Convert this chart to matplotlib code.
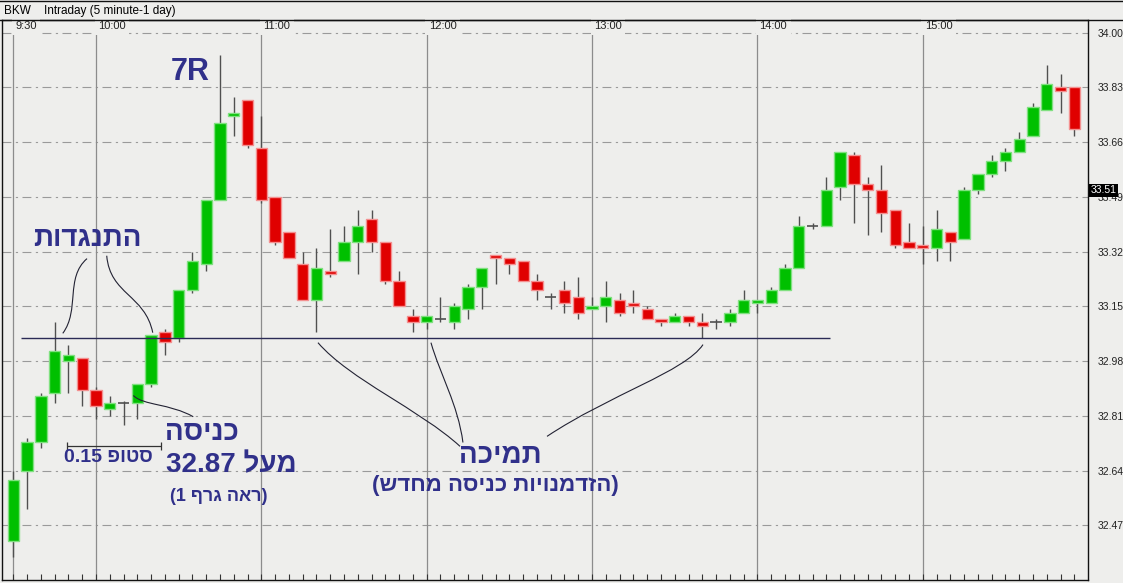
import re
import numpy as np
import matplotlib
matplotlib.use('Agg')
import matplotlib.pyplot as plt
import matplotlib.transforms as mtransforms
from matplotlib.patches import Rectangle, PathPatch
from matplotlib.path import Path
from matplotlib.lines import Line2D

# BKW, 5 minute bars from 9:30 to 15:55
opens = [32.42, 32.64, 32.73, 32.88, 32.98, 32.99, 32.89, 32.83, 32.85, 32.85,
         32.91, 33.07, 33.05, 33.20, 33.28, 33.48, 33.74, 33.79, 33.64, 33.49,
         33.38, 33.28, 33.17, 33.26, 33.29, 33.35, 33.42, 33.35, 33.23, 33.12,
         33.10, 33.11, 33.10, 33.14, 33.21, 33.31, 33.30, 33.29, 33.23, 33.18,
         33.20, 33.18, 33.14, 33.15, 33.17, 33.16, 33.14, 33.11, 33.10, 33.12,
         33.10, 33.10, 33.10, 33.13, 33.16, 33.16, 33.20, 33.27, 33.40, 33.40,
         33.52, 33.62, 33.53, 33.51, 33.45, 33.35, 33.34, 33.33, 33.38, 33.36,
         33.51, 33.56, 33.60, 33.63, 33.68, 33.76, 33.83, 33.83]
highs = [32.64, 32.74, 32.88, 33.10, 33.03, 32.99, 32.90, 32.87, 32.855, 32.91,
         33.06, 33.08, 33.20, 33.32, 33.48, 33.93, 33.80, 33.79, 33.74, 33.49,
         33.38, 33.32, 33.33, 33.39, 33.40, 33.45, 33.45, 33.35, 33.26, 33.14,
         33.12, 33.18, 33.16, 33.22, 33.27, 33.31, 33.30, 33.29, 33.25, 33.19,
         33.23, 33.24, 33.18, 33.23, 33.19, 33.20, 33.15, 33.11, 33.13, 33.12,
         33.13, 33.11, 33.14, 33.20, 33.17, 33.21, 33.28, 33.43, 33.41, 33.55,
         33.63, 33.63, 33.55, 33.59, 33.45, 33.41, 33.40, 33.45, 33.38, 33.52,
         33.56, 33.62, 33.64, 33.69, 33.78, 33.90, 33.87, 33.83]
lows = [32.37, 32.52, 32.71, 32.85, 32.88, 32.84, 32.80, 32.81, 32.78, 32.80,
        32.90, 33.00, 33.04, 33.19, 33.26, 33.48, 33.68, 33.64, 33.47, 33.34,
        33.30, 33.17, 33.07, 33.24, 33.29, 33.25, 33.32, 33.22, 33.15, 33.07,
        33.08, 33.10, 33.08, 33.11, 33.14, 33.22, 33.25, 33.23, 33.17, 33.14,
        33.13, 33.11, 33.14, 33.10, 33.12, 33.13, 33.11, 33.09, 33.10, 33.09,
        33.05, 33.08, 33.09, 33.13, 33.13, 33.16, 33.20, 33.27, 33.39, 33.40,
        33.48, 33.41, 33.37, 33.38, 33.33, 33.33, 33.28, 33.29, 33.29, 33.36,
        33.50, 33.55, 33.57, 33.63, 33.68, 33.76, 33.75, 33.68]
closes = [32.61, 32.73, 32.87, 33.01, 33.00, 32.89, 32.84, 32.85, 32.85, 32.91,
          33.06, 33.04, 33.20, 33.29, 33.48, 33.72, 33.75, 33.65, 33.48, 33.35,
          33.30, 33.17, 33.27, 33.25, 33.35, 33.40, 33.35, 33.23, 33.15, 33.10,
          33.12, 33.11, 33.15, 33.21, 33.27, 33.30, 33.28, 33.23, 33.20, 33.18,
          33.16, 33.13, 33.15, 33.18, 33.13, 33.15, 33.11, 33.10, 33.12, 33.10,
          33.09, 33.10, 33.13, 33.17, 33.17, 33.20, 33.27, 33.40, 33.40, 33.51,
          33.63, 33.53, 33.51, 33.44, 33.34, 33.33, 33.33, 33.39, 33.35, 33.51,
          33.56, 33.60, 33.63, 33.67, 33.77, 33.84, 33.82, 33.70]

hour_labels = ['9:30', '10:00', '11:00', '12:00', '13:00', '14:00', '15:00']
hour_bars = [0, 6, 18, 30, 42, 54, 66]
price_ticks = [32.47, 32.64, 32.81, 32.98, 33.15, 33.32, 33.49, 33.66, 33.83, 34.00]
last_price = 33.51
support = 33.05
stop_level = 32.715

bg = '#EEEEEC'
navy = '#30308A'
heb_font = ['Liberation Sans', 'DejaVu Sans']


def visual(s):
    # matplotlib has no bidi: put the RTL string in display order
    runs = re.findall(r'[0-9.]+|[^0-9.]+', s)
    out = []
    for r in reversed(runs):
        if r[0].isdigit():
            out.append(r)
        else:
            out.append(r[::-1].translate(str.maketrans('()', ')(')))
    return ''.join(out)


def curve(ax, pts):
    codes = [Path.MOVETO, Path.CURVE4, Path.CURVE4, Path.CURVE4]
    ax.add_patch(PathPatch(Path(pts, codes), fc='none', ec='#222233', lw=0.8, zorder=6))


fig = plt.figure(figsize=(11.23, 5.83), dpi=100, facecolor=bg)
ax = fig.add_axes([2 / 1123, 3 / 583, 1086 / 1123, 560 / 583], facecolor=bg)
ax.set_xlim(-0.82, 77.99)
ax.set_ylim(32.30, 34.039)

# grid
for p in price_ticks:
    ax.axhline(p, color='#9a9a9a', lw=0.8, ls=(0, (8, 4, 2, 4)), zorder=1)
for b in hour_bars:
    ax.axvline(b, color='#8c8c8c', lw=0.9, zorder=1)

# candles
w = 0.82
for i, (o, h, l, c) in enumerate(zip(opens, highs, lows, closes)):
    ax.vlines(i, l, h, color='#505050', lw=1, zorder=3)
    if c == o:
        ax.hlines(o, i - w / 2, i + w / 2, color='#505050', lw=1.2, zorder=4)
        continue
    if c > o:
        col, glow = '#00C000', '#80E080'
    else:
        col, glow = '#E00000', '#F49090'
    ax.add_patch(Rectangle((i - w / 2, min(o, c)), w, max(abs(c - o), 0.006),
                           fc=col, ec=glow, lw=1, zorder=4))

# time labels along the top
tr = mtransforms.blended_transform_factory(ax.transData, ax.transAxes)
for b, t in zip(hour_bars, hour_labels):
    ax.text(b + 0.15, 0.989, t, transform=tr, fontsize=8, ha='left', va='center',
            color='#222222', family='Liberation Sans',
            bbox=dict(fc=bg, ec='none', pad=2.5), zorder=5)

# price axis on the right
ax.yaxis.tick_right()
ax.set_yticks(price_ticks)
ax.set_yticklabels([f'{p:.2f}' for p in price_ticks], family='Liberation Sans')
ax.tick_params(axis='y', labelsize=7.5, length=0, pad=7, labelcolor='#222222')
ax.set_xticks(np.arange(len(opens)))
ax.tick_params(axis='x', direction='in', length=4, width=0.8, color='#333333',
               labelbottom=False)
for s in ax.spines.values():
    s.set_color('#111111')
    s.set_linewidth(1)

ytr = mtransforms.blended_transform_factory(ax.transAxes, ax.transData)
ax.text(1.002, last_price, f'{last_price:.2f}', transform=ytr, fontsize=7.5,
        color='white', ha='left', va='center', family='Liberation Sans',
        bbox=dict(fc='black', ec='none', pad=1.2), zorder=10, clip_on=False)

# header bar
fig.text(4 / 1123, 1 - 11 / 583, 'BKW', fontsize=8.5, va='center', family='Liberation Sans')
fig.text(44 / 1123, 1 - 11 / 583, 'Intraday (5 minute-1 day)', fontsize=8.5, va='center',
         family='Liberation Sans')
fig.add_artist(Line2D([0, 1], [1 - 19.5 / 583] * 2, color='#111111', lw=1))
fig.add_artist(Line2D([0, 1], [1 - 1 / 583] * 2, color='#111111', lw=1))

# annotations
ax.hlines(support, 0.54, 59.3, color='#2A2A55', lw=1, zorder=5)
ax.hlines(stop_level, 3.92, 10.7, color='#333333', lw=0.9, zorder=5)
ax.vlines([3.92, 10.7], stop_level - 0.012, stop_level + 0.012, color='#333333', lw=0.9, zorder=5)

curve(ax, [(5.35, 33.298), (3.75, 33.239), (4.84, 33.138), (3.59, 33.066)])
curve(ax, [(6.78, 33.307), (7.02, 33.186), (9.56, 33.186), (10.12, 33.068)])
curve(ax, [(8.71, 32.873), (9.41, 32.842), (11.37, 32.848), (13.06, 32.807)])
curve(ax, [(22.11, 33.037), (24.43, 32.922), (29.51, 32.829), (32.42, 32.715)])
curve(ax, [(30.31, 33.037), (30.97, 32.938), (32.27, 32.845), (32.63, 32.727)])
curve(ax, [(50.05, 33.031), (48.74, 32.947), (43.3, 32.876), (38.73, 32.746)])

txt = dict(color=navy, weight='bold', family=heb_font, ha='center', va='center', zorder=7)
ax.text(12.82, 33.877, '7R', fontsize=22, **txt)
ax.text(5.35, 33.360, visual('התנגדות'), fontsize=20, **txt)
ax.text(13.69, 32.758, visual('כניסה'), fontsize=20, **txt)
ax.text(15.8, 32.656, visual('מעל 32.87'), fontsize=20, **txt)
ax.text(14.93, 32.560, visual('(ראה גרף 1)'), fontsize=13, **txt)
ax.text(6.87, 32.679, visual('סטופ 0.15'), fontsize=14, **txt)
ax.text(35.32, 32.684, visual('תמיכה'), fontsize=20, **txt)
ax.text(34.96, 32.594, visual('(הזדמנויות כניסה מחדש)'), fontsize=16, **txt)

fig.savefig('out.png', dpi=100, facecolor=bg)
